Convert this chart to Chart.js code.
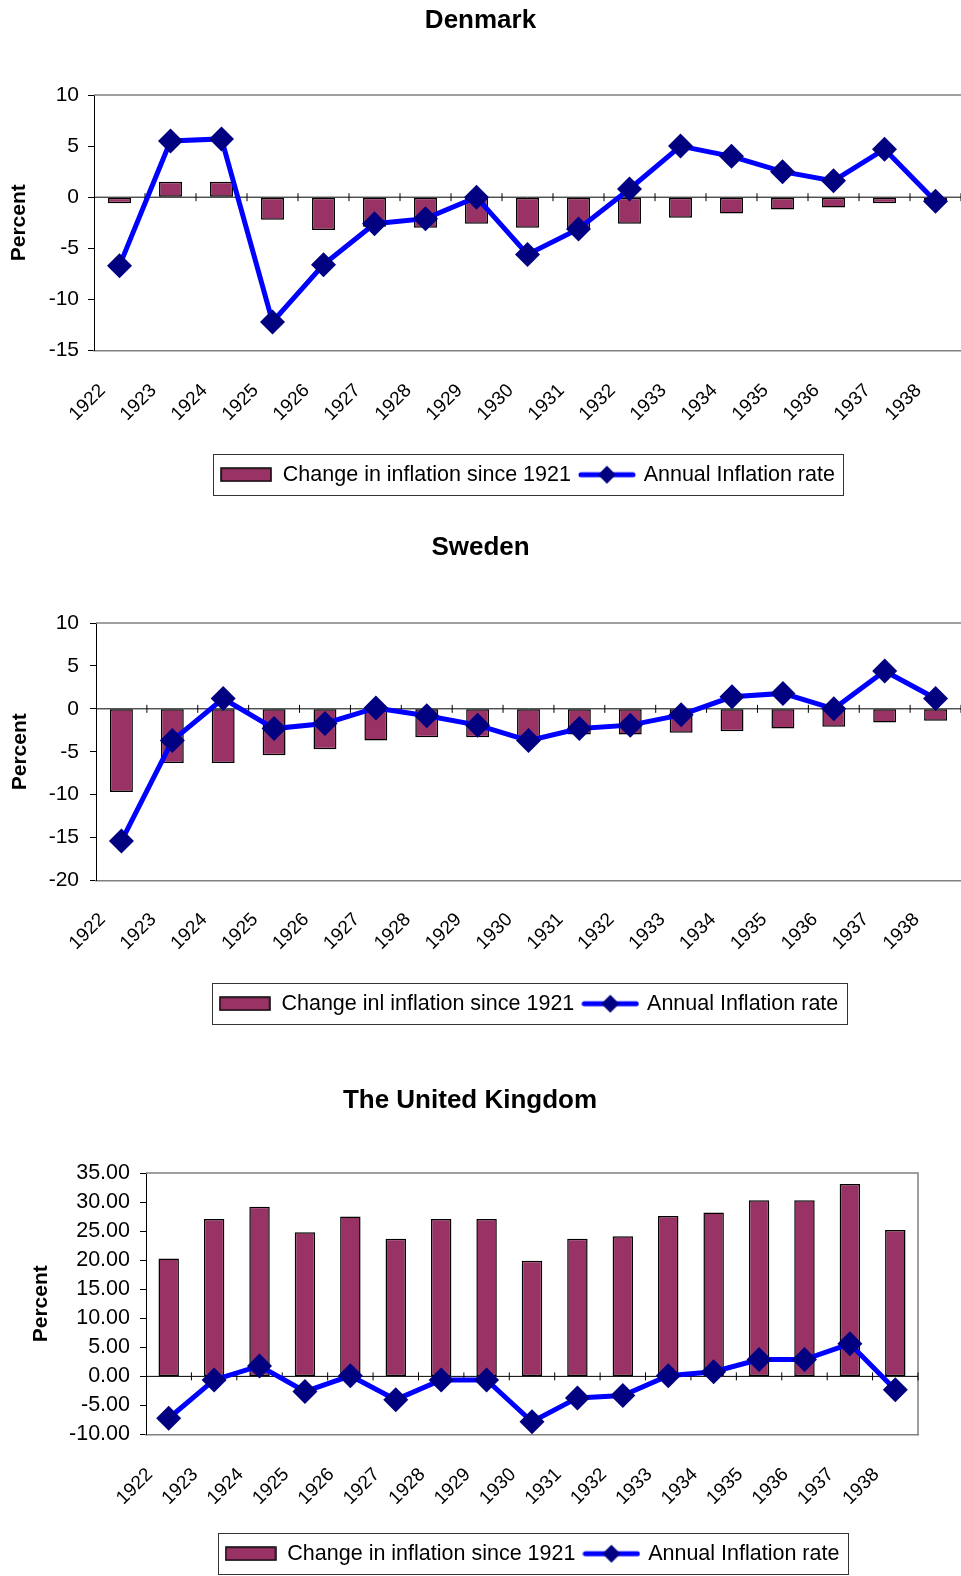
<!DOCTYPE html>
<html>
<head>
<meta charset="utf-8">
<title>Inflation 1922-1938</title>
<script src="https://cdn.jsdelivr.net/npm/chart.js@4.4.1/dist/chart.umd.min.js"></script>
<style>
  body { margin: 0; background: #fff; }
  #wrap { position: relative; width: 961px; height: 1576px; overflow: hidden; }
  canvas { position: absolute; left: 0; }
</style>
</head>
<body>
<div id="wrap">
  <canvas id="denmarkChart" width="961" height="510" style="top:0px"></canvas>
  <canvas id="swedenChart" width="961" height="520" style="top:515px"></canvas>
  <canvas id="ukChart" width="961" height="536" style="top:1040px"></canvas>
</div>
<script>
const years = ['1922', '1923', '1924', '1925', '1926', '1927', '1928', '1929', '1930',
  '1931', '1932', '1933', '1934', '1935', '1936', '1937', '1938'];

const denmarkChange = [-0.6, 1.5, 1.5, -2.2, -3.2, -2.9, -3.0, -2.6, -3.0, -3.1, -2.6, -2.0, -1.6, -1.2, -1.0, -0.6, -0.4];
const denmarkAnnual = [-6.7, 5.5, 5.7, -12.2, -6.6, -2.6, -2.1, 0.0, -5.6, -3.1, 0.8, 5.0, 4.0, 2.5, 1.6, 4.7, -0.4];

const swedenChange = [-9.7, -6.3, -6.3, -5.4, -4.7, -3.7, -3.3, -3.3, -3.6, -3.0, -3.0, -2.8, -2.6, -2.3, -2.1, -1.6, -1.4];
const swedenAnnual = [-15.4, -3.7, 1.2, -2.3, -1.7, 0.1, -0.8, -1.9, -3.7, -2.3, -1.9, -0.7, 1.4, 1.8, 0.0, 4.4, 1.2];

const ukChange = [20.3, 27.1, 29.2, 24.8, 27.5, 23.7, 27.1, 27.1, 19.9, 23.7, 24.1, 27.6, 28.2, 30.3, 30.3, 33.1, 25.2];
const ukAnnual = [-7.2, -0.6, 1.8, -2.6, 0.1, -4.0, -0.6, -0.6, -7.8, -3.7, -3.3, 0.1, 0.8, 2.9, 2.9, 5.6, -2.3];

const BAR_COLOR = '#993366';
const LINE_COLOR = '#0000ff';
const POINT_COLOR = '#000080';

Chart.defaults.font.family = '"Liberation Sans", Arial, sans-serif';
Chart.defaults.color = '#000';

function makeSwatch(w, h, draw) {
  const c = document.createElement('canvas');
  c.width = w;
  c.height = h;
  draw(c.getContext('2d'), w, h);
  return c;
}

const barSwatch = makeSwatch(52, 15, (ctx, w, h) => {
  ctx.fillStyle = BAR_COLOR;
  ctx.fillRect(1, 1, w - 2, h - 2);
  ctx.strokeStyle = '#000';
  ctx.lineWidth = 1.5;
  ctx.strokeRect(1, 1, w - 2, h - 2);
});

const lineSwatch = makeSwatch(58, 20, (ctx, w, h) => {
  ctx.strokeStyle = LINE_COLOR;
  ctx.lineWidth = 5;
  ctx.lineCap = 'round';
  ctx.beginPath();
  ctx.moveTo(3, h / 2);
  ctx.lineTo(w - 3, h / 2);
  ctx.stroke();
  ctx.fillStyle = POINT_COLOR;
  ctx.beginPath();
  ctx.moveTo(w / 2, h / 2 - 9);
  ctx.lineTo(w / 2 + 9, h / 2);
  ctx.lineTo(w / 2, h / 2 + 9);
  ctx.lineTo(w / 2 - 9, h / 2);
  ctx.closePath();
  ctx.fill();
});

// excel style frame: grey top line, zero line with category ticks, boxed legend
const excelFrame = {
  id: 'excelFrame',
  beforeDatasetsDraw(chart, args, opts) {
    const { ctx, chartArea: a, scales: { x, y } } = chart;
    ctx.save();
    ctx.strokeStyle = '#808080';
    ctx.lineWidth = 1.5;
    ctx.beginPath();
    ctx.moveTo(a.left, a.top);
    ctx.lineTo(a.right, a.top);
    if (opts.rightBorder) ctx.lineTo(a.right, a.bottom);
    ctx.stroke();

    const y0 = y.getPixelForValue(0);
    const half = (x.getPixelForValue(1) - x.getPixelForValue(0)) / 2;
    ctx.strokeStyle = '#000';
    ctx.lineWidth = 1;
    ctx.beginPath();
    ctx.moveTo(a.left, y0);
    ctx.lineTo(a.right, y0);
    x.ticks.forEach((t, i) => {
      const bx = x.getPixelForValue(i) + half;
      ctx.moveTo(bx, y0 - 4);
      ctx.lineTo(bx, y0 + 4);
    });
    ctx.stroke();
    ctx.restore();
  },
  afterDraw(chart) {
    const boxes = chart.legend.legendHitBoxes;
    if (!boxes || !boxes.length) return;
    const first = boxes[0];
    const last = boxes[boxes.length - 1];
    const cy = first.top + first.height / 2;
    const ctx = chart.ctx;
    ctx.save();
    ctx.strokeStyle = '#333';
    ctx.lineWidth = 1;
    ctx.strokeRect(Math.round(first.left - 7) + 0.5, Math.round(cy - 21) + 0.5,
      Math.round(last.left + last.width - first.left + 15), 41);
    ctx.restore();
  }
};

function buildChart(id, s) {
  return new Chart(document.getElementById(id), {
    type: 'bar',
    data: {
      labels: years,
      datasets: [
        {
          type: 'bar',
          label: s.barLabel,
          data: s.change,
          backgroundColor: BAR_COLOR,
          borderColor: '#000',
          borderWidth: 1.5,
          borderSkipped: false,
          barPercentage: 0.45,
          categoryPercentage: 1,
          order: 2
        },
        {
          type: 'line',
          label: 'Annual Inflation rate',
          data: s.annual,
          borderColor: LINE_COLOR,
          borderWidth: 5,
          pointStyle: 'rectRot',
          pointRadius: 12.5,
          pointBackgroundColor: POINT_COLOR,
          pointBorderColor: POINT_COLOR,
          pointBorderWidth: 0,
          tension: 0,
          order: 1
        }
      ]
    },
    options: {
      responsive: false,
      animation: false,
      layout: {
        autoPadding: false,
        padding: { top: 0, right: s.padRight, bottom: s.padBottom, left: s.padLeft }
      },
      plugins: {
        title: {
          display: true,
          text: s.title,
          color: '#000',
          font: { size: 26, weight: 'bold' },
          padding: { top: s.titleTop, bottom: s.titleBottom }
        },
        legend: {
          position: 'bottom',
          fullSize: false,
          labels: {
            usePointStyle: true,
            pointStyleWidth: 52,
            padding: 10,
            color: '#000',
            font: { size: 21.5 },
            generateLabels: () => [
              { text: s.barLabel, pointStyle: barSwatch, fillStyle: BAR_COLOR, strokeStyle: '#000', lineWidth: 0, hidden: false, datasetIndex: 0 },
              { text: 'Annual Inflation rate', pointStyle: lineSwatch, fillStyle: LINE_COLOR, strokeStyle: LINE_COLOR, lineWidth: 0, hidden: false, datasetIndex: 1 }
            ]
          }
        },
        tooltip: { enabled: false },
        excelFrame: { rightBorder: s.rightBorder }
      },
      scales: {
        x: {
          offset: true,
          grid: { display: false, drawTicks: false },
          border: { color: '#808080', width: 1.5 },
          ticks: {
            autoSkip: false,
            minRotation: 45,
            maxRotation: 45,
            padding: s.xPad,
            labelOffset: s.xShift,
            font: { size: 19 }
          },
          afterFit: sc => {
            sc.height = s.xHeight;
            sc.paddingLeft = 0;
            sc.paddingRight = 0;
          }
        },
        y: {
          min: s.yMin,
          max: s.yMax,
          grid: { drawOnChartArea: false, tickLength: 6, color: '#000' },
          border: { color: '#000', width: 1 },
          ticks: {
            stepSize: 5,
            autoSkip: false,
            padding: s.yPad,
            font: { size: s.yFont },
            callback: v => s.decimals ? v.toFixed(2) : v
          },
          title: {
            display: true,
            text: 'Percent',
            color: '#000',
            font: { size: 21, weight: 'bold' },
            padding: { top: s.yTitlePad, bottom: 0 }
          },
          afterFit: sc => { sc.width = s.yWidth; }
        }
      }
    },
    plugins: [excelFrame]
  });
}

buildChart('denmarkChart', {
  title: 'Denmark',
  barLabel: 'Change in inflation since 1921',
  change: denmarkChange,
  annual: denmarkAnnual,
  yMin: -15, yMax: 10, yFont: 21, yPad: 9, yWidth: 94, yTitlePad: 6.4,
  titleTop: 5.4, titleBottom: 58.4,
  xPad: 29, xShift: -17, xHeight: 103.5,
  padLeft: 0, padRight: 0, padBottom: 14.5, rightBorder: false
});

buildChart('swedenChart', {
  title: 'Sweden',
  barLabel: 'Change inl inflation since 1921',
  change: swedenChange,
  annual: swedenAnnual,
  yMin: -20, yMax: 10, yFont: 21, yPad: 11, yWidth: 96, yTitlePad: 7.9,
  titleTop: 17.4, titleBottom: 59.4,
  xPad: 28, xShift: -19, xHeight: 102.5,
  padLeft: 0, padRight: 0, padBottom: 10.5, rightBorder: false
});

buildChart('ukChart', {
  title: 'The United Kingdom',
  barLabel: 'Change in inflation since 1921',
  change: ukChange,
  annual: ukAnnual,
  yMin: -10, yMax: 35, yFont: 21.5, yPad: 10, yWidth: 124, yTitlePad: 7.1, decimals: true,
  titleTop: 45.4, titleBottom: 56.4,
  xPad: 29, xShift: -19, xHeight: 98.5,
  padLeft: 22, padRight: 43, padBottom: 1.5, rightBorder: true
});
</script>
</body>
</html>
